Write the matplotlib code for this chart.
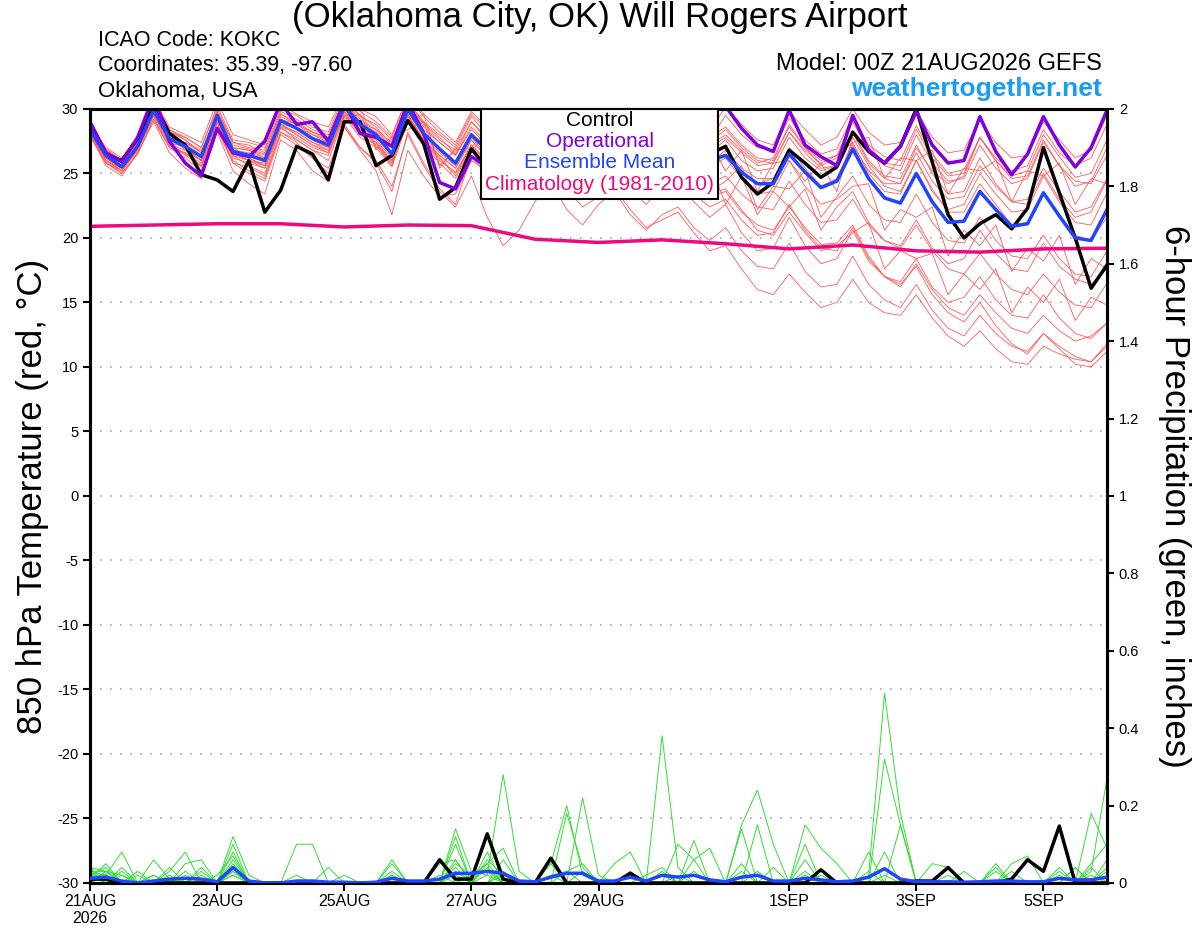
import matplotlib.pyplot as plt
import numpy as np
from matplotlib.patches import Rectangle

plt.rcParams['font.family'] = ['Liberation Sans', 'DejaVu Sans']
plt.rcParams['axes.unicode_minus'] = False

# 6-hourly forecast steps, 21AUG 00Z -> 6SEP 00Z
hours = np.arange(0, 385, 6)
clim_hours = np.arange(0, 385, 24)

# 850 hPa temperature (C)
control_temp = [28.9, 26.5, 26.0, 27.7, 30.5, 28.1, 27.2, 24.9,
                24.5, 23.6, 26.0, 22.0, 23.7, 27.1, 26.5, 24.5,
                29.0, 29.0, 25.6, 26.4, 29.1, 27.3, 23.0, 23.9,
                26.9, 25.4, 27.0, 28.2, 27.4, 26.2, 28.0, 27.2,
                25.8, 27.6, 28.8, 27.0, 26.0, 28.0, 28.6, 26.5,
                27.1, 24.7, 23.4, 24.3, 26.8, 25.8, 24.7, 25.5,
                28.2, 26.7, 25.8, 27.1, 30.0, 25.9, 21.8, 20.0,
                21.1, 21.8, 20.7, 22.3, 27.0, 23.5, 20.0, 16.1, 17.9]
oper_temp = [29.0, 26.6, 25.9, 27.8, 31.0, 27.5, 25.8, 24.8,
             28.5, 26.6, 26.3, 27.5, 30.5, 28.8, 29.0, 27.5,
             30.5, 28.1, 27.8, 27.1, 30.5, 28.1, 24.3, 23.8,
             26.3, 25.5, 27.5, 28.5, 27.0, 28.8, 29.5, 30.5,
             31.0, 29.0, 28.0, 29.0, 28.5, 27.5, 29.0, 30.5,
             30.2, 28.5, 27.2, 26.7, 29.9, 27.2, 26.3, 25.6,
             29.5, 26.8, 25.8, 27.1, 29.8, 27.2, 25.8, 26.0,
             29.4, 26.7, 24.9, 26.5, 29.4, 27.2, 25.5, 27.0, 29.9]
mean_temp = [28.4, 26.4, 25.5, 27.1, 29.9, 27.7, 27.1, 26.3,
             29.5, 26.7, 26.4, 26.0, 29.1, 28.5, 27.7, 27.2,
             30.2, 28.8, 28.0, 26.5, 30.0, 28.1, 26.9, 25.8,
             28.0, 26.8, 27.4, 26.6, 27.0, 27.8, 27.0, 26.3,
             27.2, 27.8, 26.8, 26.2, 27.0, 27.5, 26.6, 26.0,
             26.4, 25.1, 24.2, 24.2, 26.5, 25.1, 23.9, 24.4,
             26.9, 24.6, 23.1, 22.7, 25.0, 22.8, 21.2, 21.3,
             23.6, 22.2, 20.9, 21.1, 23.5, 21.7, 20.0, 19.8, 22.2]
clim_temp = [20.9, 21.0, 21.1, 21.1, 20.85, 21.0, 20.95, 19.9, 19.65,
             19.85, 19.55, 19.15, 19.45, 19.0, 18.9, 19.15, 19.2]

member_temp = [
    [28.6, 26.8, 25.8, 27.5, 30.4, 28.0, 26.8, 26.0, 29.8, 27.2, 26.9, 26.5, 29.6, 29.0, 28.2, 27.8,
     30.8, 29.5, 28.6, 27.2, 30.6, 28.9, 27.8, 26.5, 29.0, 27.8, 28.5, 27.6, 28.2, 29.0, 28.3, 27.6,
     28.6, 29.3, 28.2, 27.5, 28.8, 29.4, 28.3, 27.6, 29.5, 28.0, 27.0, 26.8, 29.3, 27.6, 26.5, 26.9,
     29.4, 27.2, 26.3, 26.0, 28.7, 26.5, 25.0, 25.3, 27.8, 26.0, 24.8, 25.2, 28.0, 26.3, 24.7, 25.0, 27.6],
    [28.2, 26.0, 25.2, 26.8, 29.5, 27.3, 26.5, 25.8, 28.9, 26.2, 25.8, 25.4, 28.5, 27.8, 27.0, 26.6,
     29.6, 28.1, 27.2, 25.8, 29.2, 27.4, 26.0, 25.1, 27.2, 26.0, 26.5, 25.6, 25.8, 26.6, 25.6, 24.8,
     25.5, 26.0, 24.8, 24.2, 24.8, 25.2, 24.0, 23.2, 23.6, 22.0, 21.0, 20.6, 22.4, 20.8, 19.5, 19.6,
     21.0, 18.6, 17.0, 16.4, 17.8, 15.6, 14.2, 13.5, 15.0, 13.2, 11.8, 11.0, 12.6, 11.4, 10.2, 10.0, 11.2],
    [27.9, 25.8, 25.0, 26.5, 29.2, 27.0, 26.6, 25.5, 28.6, 25.8, 25.5, 24.8, 28.2, 27.6, 26.8, 26.0,
     29.4, 27.8, 27.0, 25.5, 29.0, 27.2, 25.8, 24.6, 27.0, 25.6, 26.4, 25.2, 26.0, 27.0, 26.2, 25.4,
     26.4, 27.2, 26.0, 25.6, 26.8, 27.4, 26.4, 25.5, 26.2, 24.6, 23.4, 23.6, 26.0, 24.0, 22.6, 23.0,
     24.0, 24.2, 20.6, 22.2, 21.6, 22.4, 18.6, 20.6, 19.4, 21.0, 17.4, 19.2, 18.2, 20.2, 16.4, 18.4, 17.6],
    [28.8, 27.0, 26.2, 27.8, 30.6, 28.4, 27.8, 27.0, 30.2, 27.6, 27.4, 27.0, 30.0, 29.5, 28.6, 28.2,
     31.0, 29.8, 29.0, 27.8, 31.0, 29.6, 28.5, 27.4, 29.8, 28.6, 29.2, 28.4, 28.8, 29.6, 28.6, 28.0,
     29.0, 29.8, 28.6, 28.0, 29.2, 29.8, 28.8, 28.2, 30.2, 28.8, 27.6, 27.2, 29.8, 28.4, 27.2, 27.8,
     30.0, 28.2, 27.2, 27.4, 29.8, 27.8, 26.6, 26.8, 29.2, 27.4, 26.2, 26.4, 29.0, 27.6, 26.2, 26.8, 29.5],
    [28.0, 25.6, 24.8, 26.6, 29.0, 26.6, 25.4, 24.6, 28.2, 25.2, 24.2, 23.4, 27.6, 26.8, 25.2, 24.4,
     28.6, 27.0, 25.8, 23.6, 28.2, 25.8, 23.8, 22.6, 26.4, 24.8, 25.6, 24.0, 24.8, 26.0, 24.6, 23.2,
     24.6, 25.4, 23.8, 22.6, 24.0, 24.6, 22.8, 21.6, 22.6, 20.4, 19.0, 19.2, 21.6, 19.4, 18.0, 18.4,
     20.6, 18.2, 17.0, 16.6, 18.4, 16.2, 15.0, 15.4, 17.0, 15.2, 14.0, 13.8, 15.6, 13.8, 12.6, 12.2, 13.4],
    [28.5, 26.6, 25.6, 27.2, 30.2, 27.6, 27.4, 26.8, 29.2, 27.0, 26.2, 25.6, 28.8, 28.6, 28.0, 27.4,
     29.2, 29.6, 27.0, 27.8, 28.4, 29.0, 25.6, 26.8, 27.0, 28.4, 25.8, 27.6, 28.8, 26.2, 27.8, 25.4,
     28.6, 26.4, 27.8, 25.2, 26.4, 28.8, 25.8, 27.4, 25.2, 26.8, 23.6, 25.8, 26.0, 24.4, 25.8, 23.6,
     27.8, 25.6, 24.0, 23.6, 26.0, 23.6, 22.2, 22.6, 25.0, 23.4, 22.0, 22.2, 24.8, 22.8, 21.2, 21.0, 23.5],
    [28.2, 26.2, 25.4, 27.0, 29.6, 27.4, 27.0, 26.2, 29.4, 26.6, 26.0, 25.8, 28.8, 28.0, 27.2, 26.8,
     29.8, 28.4, 27.4, 26.0, 29.6, 27.4, 26.2, 24.8, 27.2, 25.2, 25.6, 24.2, 24.6, 25.2, 23.8, 22.4,
     23.2, 23.8, 22.2, 20.8, 21.4, 22.0, 20.4, 19.0, 19.4, 17.6, 16.0, 15.6, 17.2, 15.8, 14.6, 15.0,
     16.8, 15.0, 14.2, 14.0, 15.6, 13.8, 12.4, 11.6, 12.8, 11.4, 10.4, 10.2, 11.6, 11.0, 10.6, 10.4, 11.6],
    [28.7, 26.4, 25.6, 27.4, 30.0, 28.2, 27.6, 26.6, 29.6, 27.0, 26.8, 26.4, 29.2, 28.8, 28.2, 27.6,
     30.6, 29.2, 28.4, 27.0, 30.4, 28.6, 27.4, 26.4, 28.6, 27.4, 28.0, 27.2, 27.6, 28.4, 27.6, 26.8,
     28.0, 28.6, 27.6, 26.8, 27.8, 28.4, 27.4, 26.6, 27.6, 26.0, 25.2, 25.4, 27.8, 26.2, 25.2, 25.6,
     28.2, 25.8, 24.6, 24.2, 26.6, 24.4, 23.0, 23.2, 25.6, 24.0, 22.8, 23.0, 25.4, 23.6, 22.0, 22.4, 24.6],
    [28.3, 26.2, 25.2, 26.8, 29.8, 27.2, 26.4, 25.6, 29.0, 26.4, 25.6, 25.0, 28.6, 27.6, 26.8, 26.4,
     29.6, 28.0, 27.2, 25.6, 29.4, 27.6, 26.4, 25.4, 27.6, 26.2, 26.8, 25.8, 26.6, 27.6, 26.8, 25.6,
     25.2, 27.8, 24.6, 26.0, 24.4, 26.2, 23.8, 25.8, 22.6, 24.8, 21.8, 23.6, 22.4, 23.8, 20.6, 22.4,
     23.6, 21.2, 19.8, 19.4, 21.4, 19.2, 18.0, 18.4, 20.6, 18.8, 17.6, 17.4, 19.6, 17.8, 16.8, 16.4, 17.6],
    [28.9, 26.9, 26.0, 27.6, 30.8, 28.6, 28.0, 27.4, 30.6, 28.0, 27.6, 27.2, 30.4, 29.6, 29.0, 28.6,
     31.2, 30.0, 29.4, 28.0, 31.0, 29.4, 28.2, 27.2, 29.6, 28.4, 29.0, 28.2, 28.6, 29.4, 28.8, 28.2,
     29.4, 30.0, 29.0, 28.2, 29.0, 29.6, 28.6, 27.8, 28.6, 27.2, 26.2, 26.0, 28.8, 27.0, 25.6, 26.2,
     29.0, 26.8, 25.6, 25.2, 28.0, 25.8, 24.4, 24.6, 27.2, 25.4, 24.2, 24.6, 27.4, 25.6, 24.4, 24.2, 26.4],
    [28.0, 25.8, 25.2, 26.8, 29.4, 27.0, 26.2, 25.2, 28.4, 25.8, 25.0, 24.4, 28.0, 27.2, 26.2, 25.4,
     28.8, 27.0, 26.0, 24.0, 28.0, 25.6, 23.6, 22.4, 24.8, 21.6, 19.4, 20.6, 22.8, 24.4, 22.2, 21.0,
     22.6, 23.6, 21.8, 20.6, 21.8, 22.4, 20.8, 19.8, 20.8, 19.0, 17.8, 17.6, 19.6, 17.4, 16.2, 16.4,
     18.6, 16.4, 15.2, 14.6, 16.4, 14.4, 13.0, 12.4, 14.0, 12.6, 11.6, 11.2, 12.6, 11.6, 10.8, 10.4, 11.8],
    [28.4, 26.6, 25.6, 27.2, 30.0, 28.0, 27.2, 26.4, 29.6, 26.8, 26.6, 26.2, 29.2, 28.4, 27.8, 27.4,
     29.4, 30.2, 26.8, 27.6, 29.0, 29.6, 25.4, 27.0, 26.6, 28.4, 26.0, 28.2, 25.6, 27.4, 28.6, 25.8,
     27.4, 28.0, 27.0, 26.2, 26.8, 27.2, 26.2, 25.6, 26.4, 25.0, 24.2, 24.6, 27.0, 25.4, 24.0, 24.6,
     27.4, 25.0, 23.6, 23.4, 26.0, 23.8, 22.0, 22.0, 24.2, 22.6, 21.0, 21.2, 23.6, 21.8, 20.2, 19.8, 21.6],
    [28.1, 26.0, 25.4, 27.0, 29.6, 27.6, 27.0, 26.0, 29.0, 26.6, 26.2, 25.6, 28.6, 28.2, 27.4, 27.0,
     29.8, 28.6, 27.6, 26.2, 29.8, 27.8, 26.6, 25.6, 27.8, 26.4, 26.8, 26.0, 26.4, 27.2, 26.2, 25.2,
     25.8, 26.6, 25.4, 24.6, 25.0, 25.6, 24.2, 23.4, 23.8, 22.2, 20.6, 20.2, 22.0, 20.4, 19.0, 19.4,
     20.4, 21.2, 17.6, 19.0, 18.4, 18.8, 15.6, 17.2, 16.0, 17.6, 14.2, 16.2, 15.0, 16.8, 13.6, 15.4, 14.8],
    [28.6, 26.6, 25.8, 27.4, 30.4, 28.4, 27.6, 26.6, 29.8, 27.4, 27.0, 26.8, 29.8, 29.2, 28.4, 28.0,
     30.8, 29.4, 28.8, 27.6, 30.6, 29.0, 28.0, 27.0, 29.4, 28.0, 28.6, 27.8, 28.2, 29.2, 28.4, 27.8,
     28.8, 29.4, 28.4, 27.8, 28.6, 29.2, 28.2, 27.4, 28.4, 27.0, 26.0, 25.8, 28.2, 26.6, 25.4, 25.6,
     28.2, 26.0, 24.8, 24.6, 27.2, 25.0, 23.4, 23.6, 26.2, 24.2, 22.8, 22.6, 25.0, 23.0, 21.6, 22.0, 24.5],
    [28.0, 25.9, 25.0, 26.6, 29.2, 27.0, 26.6, 25.6, 28.6, 26.0, 25.2, 24.6, 28.2, 27.4, 26.2, 25.0,
     28.6, 26.8, 25.2, 21.8, 26.8, 24.8, 23.2, 23.4, 26.0, 25.2, 26.2, 25.0, 25.8, 26.8, 25.8, 24.6,
     25.6, 26.4, 25.2, 24.4, 25.8, 26.4, 25.2, 24.2, 24.8, 23.4, 22.4, 22.2, 24.4, 22.6, 21.2, 21.4,
     23.0, 21.0, 19.8, 19.2, 21.0, 19.0, 17.6, 17.2, 18.8, 17.2, 16.0, 15.6, 17.2, 15.8, 14.8, 14.6, 16.5],
    [28.5, 26.4, 25.5, 27.1, 30.2, 27.8, 27.4, 26.6, 29.6, 27.0, 26.8, 26.2, 29.4, 28.8, 28.0, 27.6,
     30.4, 29.0, 28.2, 27.0, 30.0, 28.4, 27.4, 26.4, 28.4, 27.2, 27.8, 27.0, 27.4, 28.2, 27.6, 27.0,
     28.0, 28.8, 27.8, 27.2, 28.2, 28.8, 27.8, 27.0, 27.8, 26.6, 25.6, 25.8, 28.2, 26.8, 25.8, 26.4,
     27.4, 27.8, 24.6, 26.2, 26.0, 26.8, 23.4, 25.4, 25.2, 26.0, 22.8, 25.2, 24.8, 25.8, 22.6, 24.6, 24.2],
    [28.2, 26.0, 25.2, 26.9, 29.6, 27.2, 26.8, 26.0, 29.2, 26.4, 26.0, 25.4, 28.8, 28.0, 27.2, 26.6,
     29.6, 28.2, 27.4, 25.8, 29.4, 27.6, 26.4, 25.4, 27.6, 26.2, 26.8, 26.0, 26.6, 27.4, 26.6, 25.8,
     27.4, 25.6, 27.0, 24.2, 25.8, 26.2, 27.2, 23.6, 24.4, 25.6, 22.2, 24.0, 23.8, 25.2, 21.6, 23.2,
     24.8, 22.6, 21.4, 21.2, 23.4, 21.2, 19.8, 19.6, 21.6, 19.8, 18.6, 18.4, 20.2, 18.4, 17.2, 17.0, 19.0],
    [28.6, 26.6, 25.8, 27.3, 30.0, 27.8, 27.2, 26.4, 29.4, 26.8, 26.4, 26.0, 29.0, 28.4, 27.6, 27.0,
     30.0, 28.6, 27.8, 26.4, 29.8, 28.0, 26.8, 25.8, 28.0, 26.8, 27.4, 26.4, 27.0, 28.0, 27.2, 26.4,
     27.2, 28.0, 26.8, 26.2, 27.0, 27.6, 26.6, 25.8, 26.8, 25.4, 24.6, 24.6, 26.8, 25.0, 24.0, 24.4,
     27.2, 25.2, 24.2, 24.2, 27.0, 25.2, 24.2, 24.8, 27.8, 26.2, 25.2, 25.6, 28.4, 26.6, 25.6, 26.2, 28.8],
    [28.3, 26.3, 25.4, 27.0, 29.8, 27.6, 26.9, 26.0, 29.2, 26.6, 26.0, 25.6, 28.8, 28.2, 27.4, 26.8,
     29.8, 28.4, 27.4, 26.0, 29.6, 27.6, 26.2, 25.0, 27.2, 25.8, 26.4, 25.4, 25.8, 26.6, 25.4, 24.4,
     25.0, 25.8, 24.4, 23.4, 24.2, 24.8, 23.4, 22.4, 23.0, 21.4, 20.2, 20.4, 22.6, 20.6, 19.2, 19.0,
     20.8, 18.4, 17.0, 16.2, 18.0, 16.0, 14.6, 14.0, 15.6, 14.2, 13.0, 12.6, 14.0, 12.8, 12.0, 12.4, 13.4],
    [28.7, 26.8, 26.0, 27.6, 30.2, 28.2, 27.8, 27.0, 30.0, 27.4, 27.2, 26.6, 29.6, 28.8, 28.2, 27.8,
     30.6, 29.0, 28.4, 27.4, 30.4, 28.8, 27.6, 26.8, 29.0, 27.6, 28.2, 27.2, 27.8, 28.8, 28.0, 27.4,
     28.4, 29.0, 28.2, 27.4, 28.4, 29.0, 27.8, 27.2, 28.0, 26.8, 25.8, 26.2, 28.6, 27.0, 26.0, 26.4,
     29.2, 27.0, 25.8, 25.6, 28.4, 26.2, 24.8, 25.0, 27.8, 26.0, 24.6, 24.8, 27.6, 25.6, 24.0, 24.4, 27.0],
]

# 6-hour precipitation (inches)
control_precip = [.01, .01, 0, 0, 0, 0, 0, 0, 0, 0, 0, 0, 0, 0, 0, 0,
                  0, 0, 0, 0, 0, 0, .06, .01, .01, .127, .01, 0, 0, .064, 0, 0,
                  0, 0, .025, 0, 0, 0, 0, 0, 0, 0, 0, 0, 0, 0, .034, 0,
                  0, 0, 0, 0, .005, .005, .04, 0, 0, 0, .01, .06, .03, .147, 0, 0, 0]
mean_precip = [.012, .015, .005, 0, .005, .01, .012, .01, .003, .04, .005, 0, 0, .005, .005, .002,
               .002, 0, .002, .012, .005, .005, .01, .025, .025, .03, .025, .005, .003, .015, .025, .025,
               .005, .005, .015, .005, .02, .015, .02, .008, .003, .015, .02, .005, .005, .012, .008, .003,
               .005, .015, .037, .01, .003, .003, .003, .002, .003, .005, .005, .003, .003, .012, .008, .008, .015]
member_precip = [
    [.03, .02, .08, 0, .02, 0, 0, 0, 0, .12, .02, 0, 0, 0, 0, 0, 0, 0, 0, .02, 0, 0, 0, .14,
     .03, .02, .28, .03, 0, 0, 0, 0, 0, 0, .02, 0, 0, 0, 0, 0, 0, 0, 0, 0, 0, 0, 0, 0,
     0, .02, .49, .18, 0, 0, 0, 0, 0, 0, 0, 0, 0, 0, 0, 0, 0],
    [.02, .04, 0, 0, .06, .01, 0, 0, 0, .10, 0, 0, 0, 0, 0, 0, 0, 0, 0, 0, 0, 0, .05, .06,
     0, 0, 0, 0, 0, .05, .20, .02, 0, 0, 0, 0, .38, .04, 0, 0, 0, 0, 0, 0, 0, 0, 0, 0,
     0, 0, .32, .15, 0, 0, 0, 0, 0, .04, 0, 0, 0, 0, 0, .03, .27],
    [.01, .05, 0, 0, 0, .03, .08, 0, 0, .08, 0, 0, 0, .10, .10, 0, 0, 0, 0, .06, 0, 0, 0, .05,
     .02, .05, .09, 0, 0, 0, .18, .04, 0, 0, 0, .02, .04, 0, .11, 0, 0, .15, .24, .10, 0, 0, 0, 0,
     0, 0, 0, 0, 0, 0, 0, 0, 0, 0, 0, 0, 0, 0, 0, .18, .09],
    [.04, .03, .02, 0, 0, 0, .05, .06, 0, .06, 0, 0, 0, 0, 0, 0, 0, 0, 0, .05, 0, 0, 0, .12,
     0, .08, 0, 0, 0, 0, 0, .22, .02, 0, 0, 0, 0, 0, 0, 0, 0, 0, .15, 0, 0, .15, .09, .05,
     0, 0, 0, 0, 0, .05, .04, 0, 0, 0, 0, 0, 0, .04, 0, 0, 0],
    [.02, 0, .04, 0, 0, .02, 0, .04, 0, .05, 0, 0, 0, 0, 0, 0, 0, 0, 0, 0, 0, 0, 0, .06,
     0, .06, .02, 0, 0, 0, 0, 0, 0, .05, .08, 0, 0, 0, .06, .09, 0, .14, 0, 0, 0, .10, 0, 0,
     0, 0, 0, 0, 0, 0, 0, 0, 0, 0, .05, .07, 0, 0, 0, 0, 0],
    [.03, .03, 0, 0, 0, 0, .02, 0, .02, .07, 0, 0, 0, 0, 0, 0, 0, 0, 0, 0, 0, 0, 0, 0,
     0, 0, .06, 0, 0, 0, 0, 0, 0, 0, 0, 0, 0, .10, .06, 0, 0, 0, 0, 0, 0, 0, 0, 0,
     0, .08, 0, .15, 0, 0, .04, 0, 0, 0, 0, 0, 0, 0, .04, 0, 0],
    [.02, .02, 0, .03, 0, 0, 0, 0, 0, .03, 0, 0, 0, 0, 0, .04, 0, 0, 0, 0, 0, 0, 0, 0,
     .02, .03, 0, 0, 0, 0, 0, 0, 0, 0, 0, 0, 0, 0, 0, 0, 0, 0, 0, 0, 0, 0, 0, 0,
     0, 0, 0, 0, 0, 0, 0, 0, 0, 0, 0, 0, 0, .02, 0, 0, 0],
    [.01, .02, 0, 0, 0, 0, 0, .03, 0, .04, 0, 0, 0, 0, 0, 0, 0, 0, 0, 0, 0, 0, .06, 0,
     0, 0, 0, 0, 0, .02, .03, .05, 0, 0, .03, 0, 0, 0, 0, 0, 0, 0, 0, .04, 0, 0, 0, 0,
     0, 0, 0, 0, 0, 0, 0, 0, 0, .05, 0, 0, 0, 0, 0, 0, 0],
    [0, .03, 0, 0, 0, 0, 0, 0, 0, .04, 0, 0, 0, 0, 0, 0, 0, 0, 0, 0, 0, 0, 0, .10,
     0, 0, .03, 0, 0, 0, 0, 0, 0, 0, 0, 0, .03, 0, 0, 0, 0, 0, 0, 0, 0, 0, 0, 0,
     0, 0, 0, 0, 0, 0, 0, .03, 0, 0, 0, 0, 0, 0, 0, .05, .10],
    [.02, 0, 0, 0, 0, 0, 0, 0, 0, 0, 0, 0, 0, 0, 0, 0, .02, 0, 0, 0, 0, 0, 0, 0,
     0, 0, 0, 0, 0, 0, 0, 0, 0, 0, 0, 0, 0, 0, 0, 0, 0, 0, 0, 0, 0, .06, 0, 0,
     0, 0, .08, 0, 0, 0, 0, 0, 0, 0, 0, 0, 0, 0, 0, 0, .06],
    [.03, 0, 0, 0, .02, 0, 0, 0, 0, .02, 0, 0, 0, 0, 0, 0, 0, 0, 0, .03, 0, 0, 0, .04,
     0, 0, 0, 0, 0, 0, 0, 0, 0, 0, 0, 0, 0, 0, 0, 0, 0, .05, 0, 0, 0, 0, 0, 0,
     0, 0, 0, 0, 0, 0, 0, 0, 0, 0, 0, 0, 0, 0, 0, 0, 0],
    [0, .02, 0, 0, 0, 0, 0, 0, 0, 0, 0, 0, 0, 0, 0, 0, 0, 0, 0, 0, 0, 0, 0, 0,
     0, .04, 0, 0, 0, 0, 0, 0, 0, 0, 0, 0, 0, 0, 0, 0, 0, 0, 0, 0, 0, 0, 0, 0,
     0, 0, 0, 0, 0, 0, 0, 0, 0, 0, 0, 0, 0, 0, 0, 0, .04],
    [.02, 0, 0, 0, 0, 0, .03, 0, 0, 0, 0, 0, 0, 0, 0, 0, 0, 0, 0, .02, 0, 0, 0, 0,
     0, 0, 0, 0, 0, .05, 0, 0, 0, 0, 0, 0, 0, .02, 0, 0, 0, 0, 0, 0, 0, .03, 0, 0,
     0, 0, 0, 0, 0, 0, 0, 0, 0, .03, 0, 0, 0, 0, 0, .04, 0],
    [0, .03, 0, 0, 0, 0, 0, 0, 0, .03, 0, 0, 0, 0, 0, 0, 0, 0, 0, 0, 0, 0, 0, .03,
     0, 0, 0, 0, 0, 0, .03, 0, 0, 0, 0, 0, 0, 0, .03, 0, 0, 0, 0, 0, 0, 0, 0, 0,
     0, .03, 0, 0, 0, 0, 0, 0, 0, 0, 0, 0, 0, 0, .04, 0, 0],
    [0, 0, .02, 0, 0, .04, 0, 0, 0, 0, 0, 0, 0, 0, 0, 0, 0, 0, 0, 0, 0, 0, 0, 0,
     0, .05, 0, 0, 0, 0, 0, 0, 0, 0, 0, 0, 0, 0, 0, 0, 0, .03, 0, 0, 0, 0, 0, 0,
     0, 0, 0, 0, 0, 0, 0, 0, 0, 0, .03, 0, 0, 0, 0, 0, .03],
    [.04, 0, 0, 0, 0, 0, 0, 0, 0, .02, 0, 0, 0, 0, 0, 0, 0, 0, 0, 0, 0, 0, 0, 0,
     0, 0, .02, 0, 0, 0, 0, 0, 0, 0, .02, 0, 0, 0, 0, 0, 0, 0, 0, 0, 0, 0, 0, 0,
     0, 0, .02, 0, 0, 0, 0, 0, 0, 0, 0, 0, 0, 0, 0, 0, 0],
    [0, .02, 0, 0, 0, 0, 0, 0, 0, 0, 0, 0, 0, 0, 0, 0, 0, 0, 0, 0, 0, 0, 0, .02,
     0, 0, 0, 0, 0, 0, 0, 0, 0, 0, 0, 0, .02, 0, 0, 0, 0, 0, 0, 0, 0, 0, .02, 0,
     0, 0, 0, 0, 0, 0, 0, 0, 0, 0, 0, 0, 0, .03, 0, 0, 0],
    [0, 0, 0, .02, 0, 0, 0, .02, 0, 0, 0, 0, 0, 0, 0, 0, 0, 0, 0, 0, 0, 0, .02, 0,
     0, 0, 0, 0, 0, 0, 0, .03, 0, 0, 0, 0, 0, 0, 0, 0, 0, 0, .03, 0, 0, 0, 0, 0,
     0, 0, 0, 0, 0, 0, 0, 0, 0, 0, 0, 0, 0, 0, 0, 0, 0],
    [.02, 0, 0, 0, 0, 0, 0, 0, 0, 0, 0, 0, 0, .02, 0, 0, 0, 0, 0, 0, 0, 0, 0, 0,
     0, 0, 0, 0, 0, .02, 0, 0, 0, 0, 0, 0, 0, 0, 0, 0, 0, 0, 0, 0, 0, 0, 0, 0,
     0, 0, 0, 0, 0, 0, .02, 0, 0, 0, 0, 0, 0, 0, 0, 0, 0],
    [0, 0, .03, 0, 0, 0, 0, 0, 0, 0, 0, 0, 0, 0, 0, 0, 0, 0, 0, 0, 0, 0, 0, 0,
     0, .02, 0, 0, 0, 0, 0, 0, 0, 0, 0, 0, 0, 0, 0, 0, 0, 0, 0, 0, 0, .02, 0, 0,
     0, 0, 0, 0, 0, 0, 0, 0, 0, 0, 0, 0, 0, 0, 0, .02, 0],
]

tick_hours = [0, 48, 96, 144, 192, 264, 312, 360]
tick_labels = ['21AUG\n2026', '23AUG', '25AUG', '27AUG', '29AUG', '1SEP', '3SEP', '5SEP']
legend_labels = ['Control', 'Operational', 'Ensemble Mean', 'Climatology (1981-2010)']

c_member = '#ff5a5a'
c_green = '#33dd33'
c_oper = '#8000dd'
c_mean = '#2244ff'
c_clim = '#ee0a7e'

fig = plt.figure(figsize=(12, 9.27), dpi=100)
ax = fig.add_axes([0.075, 0.0475, 0.8475, 0.835])
ax2 = ax.twinx()

for m in member_temp:
    ax.plot(hours, m, color=c_member, lw=0.6, zorder=2)
ax.plot(clim_hours, clim_temp, color=c_clim, lw=2.5, zorder=3)
ax.plot(hours, control_temp, color='black', lw=2.5, zorder=4)
ax.plot(hours, oper_temp, color=c_oper, lw=2.5, zorder=5)
ax.plot(hours, mean_temp, color=c_mean, lw=2.5, zorder=6)

for m in member_precip:
    ax2.plot(hours, m, color=c_green, lw=0.7, zorder=2)
ax2.plot(hours, control_precip, color='black', lw=2.5, zorder=3)
ax2.plot(hours, mean_precip, color=c_mean, lw=2.5, zorder=4)

ax.set_xlim(0, 384)
ax.set_ylim(-30, 30)
ax.set_yticks(np.arange(-30, 31, 5))
ax2.set_ylim(0, 2)
ax2.set_yticks(np.arange(0, 2.01, 0.2))
ax2.set_yticklabels(['0', '0.2', '0.4', '0.6', '0.8', '1', '1.2', '1.4', '1.6', '1.8', '2'])
ax.set_xticks(tick_hours)
ax.set_xticklabels(tick_labels)

ax.yaxis.grid(True, linestyle=(0, (1, 5)), color='#aaaaaa', lw=1.2)
ax.tick_params(axis='y', labelsize=10.5, length=5, width=1.5)
ax.tick_params(axis='x', labelsize=11.5, length=6, width=1.5, pad=2)
ax2.tick_params(axis='y', labelsize=10.5, length=5, width=1.5)
for a in (ax, ax2):
    for s in a.spines.values():
        s.set_linewidth(2.2)

# legend box with centred, coloured labels
ax2.add_patch(Rectangle((0.3845, 0.8837), 0.233, 0.1163, transform=ax2.transAxes,
                        facecolor='white', edgecolor='black', lw=1.5, zorder=10, clip_on=False))
for lab, col, yy in zip(legend_labels, ['black', c_oper, c_mean, c_clim],
                        [0.9845, 0.9574, 0.9302, 0.9018]):
    ax2.text(0.501, yy, lab, color=col, fontsize=15, ha='center', va='center',
             transform=ax2.transAxes, zorder=11)

fig.text(0.5, 1 - 18 / 927, '(Oklahoma City, OK) Will Rogers Airport', ha='center', va='center', fontsize=25)
fig.text(98 / 1200, 1 - 40 / 927, 'ICAO Code: KOKC', ha='left', va='center', fontsize=15.5)
fig.text(98 / 1200, 1 - 66 / 927, 'Coordinates: 35.39, -97.60', ha='left', va='center', fontsize=15.5)
fig.text(98 / 1200, 1 - 92 / 927, 'Oklahoma, USA', ha='left', va='center', fontsize=16)
fig.text(1102 / 1200, 1 - 64 / 927, 'Model: 00Z 21AUG2026 GEFS', ha='right', va='center', fontsize=17)
fig.text(1102 / 1200, 1 - 89 / 927, 'weathertogether.net', ha='right', va='center', fontsize=19,
         fontweight='bold', color='#1a9cf2')
fig.text(33 / 1200, 1 - 496 / 927, '850 hPa Temperature (red, °C)', rotation=90, ha='center', va='center',
         fontsize=25)
fig.text(1175 / 1200, 1 - 496 / 927, '6-hour Precipitation (green, inches)', rotation=270, ha='center',
         va='center', fontsize=25)

fig.savefig('out.png', dpi=100)
